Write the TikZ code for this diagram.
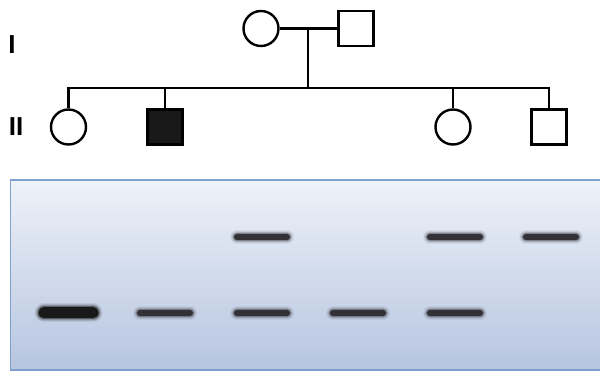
\documentclass[tikz,border=0pt]{standalone}
\usepackage{fontspec}
\setsansfont{Liberation Sans}
\usepackage{tikz}
\usetikzlibrary{positioning, calc}
\definecolor{geltop}{RGB}{238,242,249}
\definecolor{gelbot}{RGB}{182,197,224}
\definecolor{gelrim}{RGB}{128,160,206}
\definecolor{bandink}{RGB}{50,50,54}

\begin{document}
\begin{tikzpicture}[
  x=1pt, y=-1pt,
  line width=2.4pt,
  female/.style={circle, draw, minimum size=35pt, inner sep=0pt},
  male/.style={rectangle, draw, minimum size=35pt, inner sep=0pt},
  affected/.style={fill=black!90},
  genlabel/.style={font={\sffamily\bfseries\fontsize{26}{28}\selectfont}},
]
  \useasboundingbox (0,0) rectangle (600,371);

  % Generation labels
  \node[genlabel] (genI)  at (12,45)  {I};
  \node[genlabel] (genII) at (16,127) {II};

  % Generation I: parents
  \node[female] (mom) at (261,28.5) {};
  \node[male]   (dad) at (356,28.5) {};
  \draw (mom) -- (dad);
  \coordinate (mate) at (308,29.3);
  \coordinate (sib)  at (308,88);
  \draw (mate) -- (sib);

  % Generation II: children
  \node[female]          (kid1) at (68.5,127) {};
  \node[male, affected]  (kid2) at (165,127)  {};
  \node[female]          (kid3) at (453,127)  {};
  \node[male]            (kid4) at (549,127)  {};
  \draw (kid1.north) |- (sib) -| (kid4.north);
  \draw (kid2.north) -- (kid2.north |- sib);
  \draw (kid3.north) -- (kid3.north |- sib);

  % Gel
  \shade[top color=geltop, bottom color=gelbot] (10.5,180) rectangle (610,370);
  \draw[gelrim, line width=1.5pt] (10.5,180) rectangle (610,370);

  % Bands: lane x / row y, soft edges from stacked strokes
  \foreach \x/\y in {165/313, 262/313, 358/313, 455/313,
                     262/237, 455/237, 551/237} {
    \foreach \e/\o in {8/0.06, 6/0.1, 4/0.18, 2/0.35, 0/1} {
      \draw[bandink, opacity=\o, line width=6pt+\e pt, line cap=round]
        (\x-25,\y) -- (\x+25,\y);
    }
  }
  % thick band in the first lane
  \foreach \e/\o in {8/0.08, 6/0.12, 4/0.2, 2/0.4, 0/1} {
    \draw[black!90, opacity=\o, line width=11pt+\e pt, line cap=round]
      (44,313) -- (93,313);
  }
\end{tikzpicture}
\end{document}
